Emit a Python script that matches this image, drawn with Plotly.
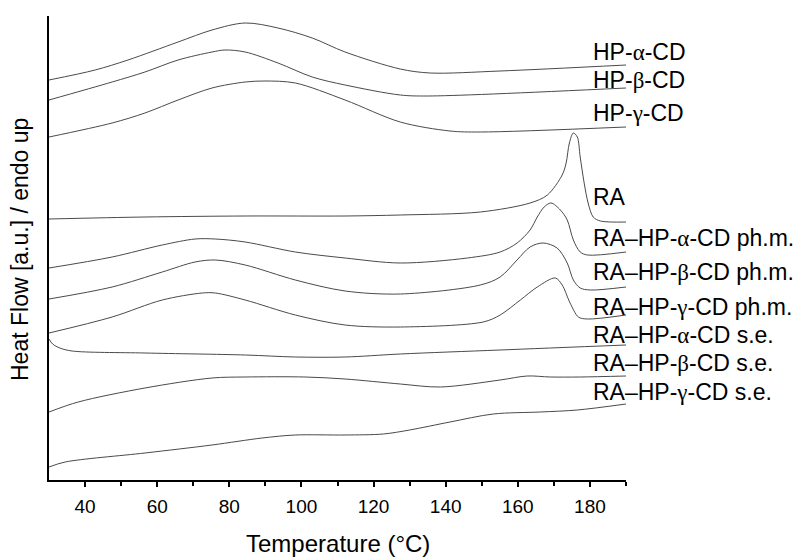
import plotly.graph_objects as go

# Temperature (°C) / heat flow (a.u., offset stacked)
T_hp_a = [30, 42.8, 51.9, 65.8, 75.2, 84.4, 93.5, 103, 112.1, 127.4, 135.7, 155.1, 190]
H_hp_a = [400, 410, 420, 438, 450, 457, 452, 442, 428, 411, 407, 409, 415]

T_hp_b = [30, 47.5, 56.6, 65.8, 75.2, 78.8, 84.4, 93.5, 103, 112.1, 127.4, 135, 190]
H_hp_b = [380, 398, 408, 420, 428, 430, 428, 417, 403, 395, 385, 384, 392]

T_hp_g = [30, 47.5, 56.6, 65.8, 75.2, 84.4, 89.9, 98.3, 112.1, 127.4, 141.2, 149.6, 190]
H_hp_g = [343, 357, 367, 380, 392, 398, 399, 397, 380, 358, 349, 348, 353]

T_ra = [30, 56.6, 84.4, 112.1, 127.4, 149.6, 163.4, 168.2, 172.3, 173.4, 174.3, 175.4, 176.5, 177.3, 178.4, 179.5, 180.9, 182.9, 190]
H_ra = [261, 263, 264, 264, 265, 268, 277, 285, 305, 317, 337, 347, 343, 323, 297, 277, 263, 259, 258]

T_a_pm = [30, 47.5, 61.4, 70.5, 76.1, 84.4, 98.3, 112.1, 127.4, 146, 155.1, 159.8, 163.4, 165.4, 167.3, 169.2, 171.8, 173.7, 175.4, 177.3, 179.3, 190]
H_a_pm = [212, 223, 235, 241, 241, 238, 228, 222, 217, 222, 228, 237, 250, 263, 273, 277, 270, 260, 240, 228, 225, 228]

T_b_pm = [30, 47.5, 61.4, 70.5, 76.1, 84.4, 98.3, 112.1, 127.4, 149.6, 155.1, 159.8, 163.4, 167, 170.9, 173.7, 175.4, 177.3, 180.1, 190]
H_b_pm = [181, 193, 208, 218, 220, 215, 200, 189, 186, 195, 203, 220, 233, 237, 232, 217, 200, 192, 190, 193]

T_g_pm = [30, 47.5, 61.4, 72.5, 76.1, 84.4, 98.3, 112.1, 127.4, 150.4, 155.1, 160.7, 165.4, 170.4, 172.3, 174.5, 176.8, 179.3, 190]
H_g_pm = [147, 163, 180, 187, 187, 180, 165, 155, 153, 158, 165, 180, 193, 202, 195, 177, 163, 161, 165]

T_a_se = [30, 31, 33, 36.4, 56.6, 84.4, 98.3, 112.1, 127.4, 155.1, 190]
H_a_se = [141, 136, 132, 129, 127, 125, 123, 123, 126, 130, 135]

T_b_se = [30, 38.1, 56.6, 75.2, 84.4, 101, 112.1, 127.4, 138.5, 155.1, 162.6, 169, 177.3, 190]
H_b_se = [68, 78, 92, 102, 103, 103, 101, 96, 93, 100, 104, 103, 103, 104]

T_g_se = [30, 34.5, 56.6, 75.2, 89.1, 98.3, 112.1, 122.7, 130, 141.2, 153.2, 166.2, 176.5, 190]
H_g_se = [13, 18, 27, 35, 42, 45, 45, 46, 50, 58, 66, 68, 70, 76]

G = '<span style="font-family:\'Liberation Serif\'">%s</span>'
labels = [
    "HP-" + G % "α" + "-CD",
    "HP-" + G % "β" + "-CD",
    "HP-" + G % "γ" + "-CD",
    "RA",
    "RA–HP-" + G % "α" + "-CD ph.m.",
    "RA–HP-" + G % "β" + "-CD ph.m.",
    "RA–HP-" + G % "γ" + "-CD ph.m.",
    "RA–HP-" + G % "α" + "-CD s.e.",
    "RA–HP-" + G % "β" + "-CD s.e.",
    "RA–HP-" + G % "γ" + "-CD s.e.",
]
label_T = 180.4
label_H = [428, 400, 367, 283, 242, 208, 173, 145, 117, 88]

series = [
    (T_hp_a, H_hp_a), (T_hp_b, H_hp_b), (T_hp_g, H_hp_g), (T_ra, H_ra),
    (T_a_pm, H_a_pm), (T_b_pm, H_b_pm), (T_g_pm, H_g_pm),
    (T_a_se, H_a_se), (T_b_se, H_b_se), (T_g_se, H_g_se),
]

FONT = "Liberation Sans, Arial, sans-serif"
fig = go.Figure()
for (t, h) in series:
    fig.add_trace(go.Scatter(x=t, y=h, mode="lines",
                             line=dict(color="#4a4a4a", width=1, shape="spline", smoothing=0.9),
                             showlegend=False, hoverinfo="skip"))

for lab, yh in zip(labels, label_H):
    fig.add_annotation(x=label_T, y=yh, xref="x", yref="y", text=lab, showarrow=False,
                       xanchor="left", yanchor="middle",
                       font=dict(family=FONT, size=23, color="black"))

fig.add_annotation(x=0.5, y=-0.137, xref="paper", yref="paper", text="Temperature (°C)",
                   showarrow=False, xanchor="center", yanchor="middle",
                   font=dict(family=FONT, size=24, color="black"))
fig.add_annotation(x=-0.05, y=0.496, xref="paper", yref="paper", text="Heat Flow [a.u.] / endo up",
                   showarrow=False, xanchor="center", yanchor="middle", textangle=-90,
                   font=dict(family=FONT, size=23, color="black"))

fig.update_layout(
    width=806, height=557, autosize=False,
    margin=dict(l=49, r=180, t=16, b=77),
    paper_bgcolor="white", plot_bgcolor="white",
    font=dict(family=FONT, color="black"),
    xaxis=dict(range=[30, 190], tickvals=[40, 60, 80, 100, 120, 140, 160, 180],
               ticks="outside", ticklen=5, tickwidth=2, tickcolor="black",
               showline=True, linewidth=2, linecolor="black", showgrid=False, zeroline=False,
               tickfont=dict(family=FONT, size=19, color="black"), ticklabelstandoff=3,
               minor=dict(tickvals=[50, 70, 90, 110, 130, 150, 170, 190], ticks="outside",
                          ticklen=4, tickwidth=2, tickcolor="black", showgrid=False)),
    yaxis=dict(range=[0, 464], showline=True, linewidth=2, linecolor="black",
               showticklabels=False, ticks="", showgrid=False, zeroline=False),
)

fig.write_html("out.html", config={"displayModeBar": False},
               post_script="document.body.style.margin='0';")
